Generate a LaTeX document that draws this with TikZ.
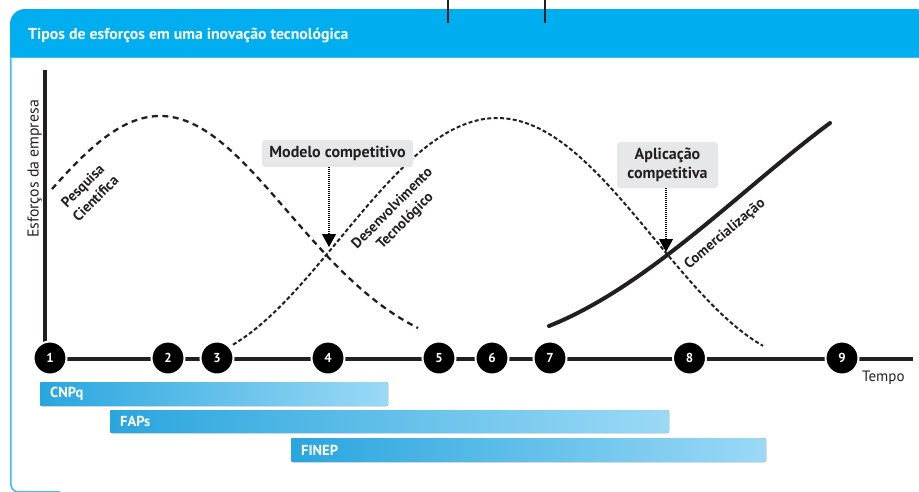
\documentclass[tikz,border=0pt]{standalone}
\usepackage{fontspec}
\setmainfont{PT Sans}
\usetikzlibrary{arrows.meta}
\definecolor{headblue}{HTML}{00AEEF}
\definecolor{rimblue}{HTML}{3CC0F2}
\definecolor{ink}{HTML}{231F20}
\definecolor{boxgray}{HTML}{E6E7E8}
\definecolor{barA}{HTML}{29A6DE}
\definecolor{barB}{HTML}{3BBDEC}
\definecolor{barC}{HTML}{9BD9F6}
\newcommand{\fsz}[1]{\fontsize{#1}{1.15\dimexpr#1pt\relax}\selectfont}
\newcommand{\fszwide}[1]{\fontsize{#1}{1.25\dimexpr#1pt\relax}\selectfont}
\tikzset{
  axisline/.style={line width=3.2pt, draw=ink},
  stage/.style={circle, fill=black, draw=white, line width=2pt, minimum size=33pt,
    inner sep=0pt, text=white, font=\fsz{13}\bfseries},
  fundbar/.style={rounded corners=2pt, left color=barA, middle color=barB, right color=barC},
  fundlabel/.style={anchor=west, text=white, font=\fsz{14.5}\bfseries, inner sep=0pt},
  callout/.style={fill=boxgray, rounded corners=3pt, text=ink, font=\fsz{16}\bfseries},
  curvelabel/.style={text=ink, font=\fszwide{14.5}\bfseries, align=center, inner sep=0pt},
  research/.style={draw=ink, line width=2.3pt, dash pattern=on 6pt off 4.5pt},
  development/.style={draw=ink, line width=2pt, dash pattern=on 4pt off 2.4pt},
  market/.style={draw=ink, line width=4pt},
  pointer/.style={draw=black, line width=1.1pt, dash pattern=on 1pt off 1pt,
    -{Triangle[width=14pt,length=13pt]}},
}
\begin{document}
\begin{tikzpicture}[x=1pt,y=-1pt]
\useasboundingbox (0,0) rectangle (919,491);

% frame: header band and thin left rim
\fill[headblue] (10,57) {[rounded corners=15pt] -- (10,9) -- (930,9)} -- (930,57) -- cycle;
\draw[rimblue, line width=1.5pt] (10,57.5) -- (919,57.5);
\draw[rimblue, line width=1.6pt] (10.8,57) {[rounded corners=8pt] -- (10.8,492) -- (60,492)};
\node[anchor=base west, text=white, font=\fsz{15.8}\bfseries, inner sep=0pt] (title)
  at (28,39.5) {Tipos de esforços em uma inovação tecnológica};
\draw[line width=2pt, draw=ink] (448,0) -- (448,23);
\draw[line width=2pt, draw=ink] (545,0) -- (545,23);

% axes
\coordinate (ytop) at (45,70);
\coordinate (origin) at (45,359);
\coordinate (xend) at (913,359);
\draw[axisline] (origin) -- (ytop);
\draw[axisline] (origin) -- (xend);
\node[rotate=90, anchor=base, text=ink, font=\fsz{15.8}, inner sep=0pt] (ylab)
  at (38.5,169) {Esforços da empresa};
\node[anchor=base west, text=ink, font=\fsz{15}, inner sep=0pt] (xlab)
  at (862,381) {Tempo};

% curves
\draw[research] plot[domain=52:418, samples=90]
  (\x,{360-244*exp(-0.5*((\x-160)/128)^2)});
\draw[development] plot[domain=233:763, samples=110]
  (\x,{360-121*(1+cos(0.5714*(\x-497)))});
\draw[market, line cap=round] (549,326) .. controls (649,286) and (740,190) .. (830,123);

% curve labels
\node[curvelabel, rotate=45] (lres) at (89,192) {Pesquisa\\Científica};
\node[curvelabel, rotate=45] (ldev) at (399,215) {Desenvolvimento\\Tecnológico};
\node[curvelabel, rotate=40] (lmkt) at (725,234) {Comercialização};

% callouts
\node[callout, minimum width=151pt, minimum height=27pt, inner sep=0pt] (model)
  at (337.5,153.5) {Modelo competitivo};
\coordinate (modeltip) at (329,247);
\draw[pointer] (model.south -| modeltip) -- (modeltip);
\node[callout, minimum width=101pt, minimum height=46pt, inner sep=0pt, align=center]
  (appl) at (667.5,165) {Aplicação\\competitiva};
\coordinate (appltip) at (666,252);
\draw[pointer] (appl.south -| appltip) -- (appltip);

% stages on the time axis
\foreach \n/\px in {1/50,2/168,3/217,4/328,5/439,6/492,7/550,8/689.5,9/842}
  \node[stage] (s\n) at (\px,358) {\n};

% funding bars
\fill[fundbar] (40,382) rectangle (388,406);
\node[fundlabel] (cnpq) at (50,394) {CNPq};
\fill[fundbar] (110,410) rectangle (669,433);
\node[fundlabel] (faps) at (120,421.5) {FAPs};
\fill[fundbar] (291,438) rectangle (766,462);
\node[fundlabel] (finep) at (301,450) {FINEP};
\end{tikzpicture}
\end{document}
